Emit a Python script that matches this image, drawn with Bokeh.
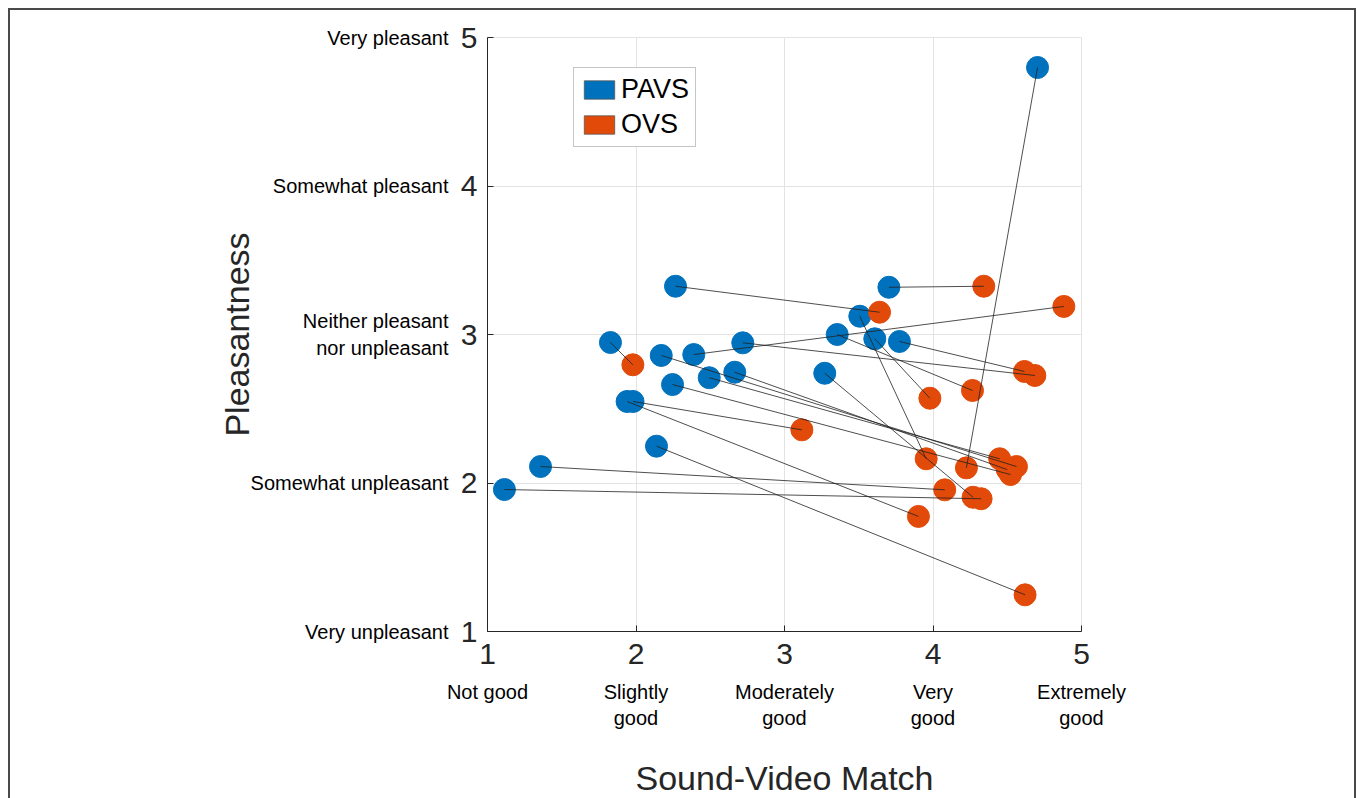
from bokeh.plotting import figure
from bokeh.models import Legend, LegendItem, FixedTicker, Range1d, LinearAxis
from bokeh.embed import file_html
from bokeh.resources import INLINE

# Mean ratings for 20 sound-video stimuli, paired by stimulus
pavs_match = [1.114, 1.357, 1.828, 1.940, 1.980, 2.138, 2.170, 2.246, 2.266, 2.389,
              2.493, 2.665, 2.719, 3.271, 3.355, 3.507, 3.608, 3.703, 3.774, 4.704]
pavs_pleasant = [1.956, 2.111, 2.946, 2.549, 2.549, 2.248, 2.859, 2.663, 3.325, 2.865,
                 2.709, 2.746, 2.944, 2.739, 3.000, 3.123, 2.971, 3.318, 2.953, 4.798]
ovs_match = [4.324, 4.079, 1.979, 3.902, 3.117, 4.620, 4.562, 4.522, 3.640, 4.881,
             4.449, 4.500, 4.686, 4.270, 4.266, 3.954, 3.979, 4.342, 4.616, 4.225]
ovs_pleasant = [1.894, 1.954, 2.796, 1.775, 2.358, 1.247, 2.111, 2.057, 3.150, 3.189,
                2.163, 2.090, 2.724, 1.904, 2.623, 2.163, 2.571, 3.325, 2.751, 2.102]

scale_ticks = [1, 2, 3, 4, 5]
match_labels = ["Not good", "Slightly\ngood", "Moderately\ngood", "Very\ngood", "Extremely\ngood"]
pleasant_labels = ["Very unpleasant", "Somewhat unpleasant", "Neither pleasant\nnor unpleasant",
                   "Somewhat pleasant", "Very pleasant"]

BLUE = "#0072BD"
ORANGE = "#E24A0A"
FONT = "Liberation Sans"
INK = "#262626"

p = figure(frame_width=594, frame_height=594,
           x_range=Range1d(1, 5), y_range=Range1d(1, 5),
           min_border_left=477, min_border_top=27, min_border_right=273, min_border_bottom=167,
           output_backend="svg", toolbar_location=None)
p.styles = {"margin-left": "8px", "margin-top": "8px",
            "border-left": "2px solid #4a4a4a", "border-top": "2px solid #4a4a4a",
            "border-right": "2px solid #4a4a4a"}
p.background_fill_color = "white"
p.border_fill_color = "white"
p.outline_line_color = "#e3e3e3"

for ax in (p.xaxis[0], p.yaxis[0]):
    ax.ticker = FixedTicker(ticks=scale_ticks)
    ax.minor_tick_line_color = None
    ax.major_tick_in = 6
    ax.major_tick_out = 0
    ax.major_tick_line_color = INK
    ax.axis_line_color = INK
    ax.major_label_text_font = FONT
    ax.major_label_text_font_size = "30px"
    ax.major_label_text_color = INK
p.xaxis.major_label_standoff = 12
p.yaxis.major_label_standoff = 10


def verbal_axis(texts, standoff):
    ax = LinearAxis(ticker=FixedTicker(ticks=scale_ticks),
                    major_label_overrides={v: t for v, t in zip(scale_ticks, texts)})
    ax.axis_line_color = None
    ax.major_tick_line_color = None
    ax.minor_tick_line_color = None
    ax.major_label_text_font = FONT
    ax.major_label_text_font_size = "20px"
    ax.major_label_text_color = "black"
    ax.major_label_standoff = standoff
    ax.axis_label_text_font = FONT
    ax.axis_label_text_font_size = "34px"
    ax.axis_label_text_font_style = "normal"
    ax.axis_label_text_color = INK
    return ax


# verbal anchors of both rating scales, on outer axes
y_words = verbal_axis(pleasant_labels, 3)
y_words.axis_label = "Pleasantness"
y_words.axis_label_standoff = -8
p.add_layout(y_words, "left")

x_words = verbal_axis(match_labels, 8)
x_words.axis_label = "Sound-Video Match"
x_words.axis_label_standoff = 27
p.add_layout(x_words, "below")

p.grid.ticker = FixedTicker(ticks=scale_ticks)
p.grid.grid_line_color = "#e3e3e3"
p.grid.grid_line_width = 1

# markers: PAVS first, OVS on top, connecting lines above both
p.scatter(pavs_match, pavs_pleasant, size=22, fill_color=BLUE, line_color=BLUE)
p.scatter(ovs_match, ovs_pleasant, size=22, fill_color=ORANGE, line_color=ORANGE)
p.segment(x0=pavs_match, y0=pavs_pleasant, x1=ovs_match, y1=ovs_pleasant,
          line_color="#222222", line_width=1, line_alpha=0.8)

# legend swatches (never visible in the plot area)
nan = float("nan")
sw_b = p.quad(left=[nan], right=[nan], top=[nan], bottom=[nan],
              fill_color=BLUE, line_color="#555555", line_width=0.8)
sw_o = p.quad(left=[nan], right=[nan], top=[nan], bottom=[nan],
              fill_color=ORANGE, line_color="#555555", line_width=0.8)
legend = Legend(items=[LegendItem(label="PAVS", renderers=[sw_b]),
                       LegendItem(label="OVS", renderers=[sw_o])],
                location=(86, 484), glyph_width=38, glyph_height=23,
                label_text_font=FONT, label_text_font_size="27px", label_text_color="black",
                label_standoff=3, padding=6, spacing=4, margin=0,
                border_line_color="#8c8c8c", border_line_width=1,
                background_fill_color="white", background_fill_alpha=1)
p.add_layout(legend)

open("out.html", "w").write(file_html(p, INLINE))
